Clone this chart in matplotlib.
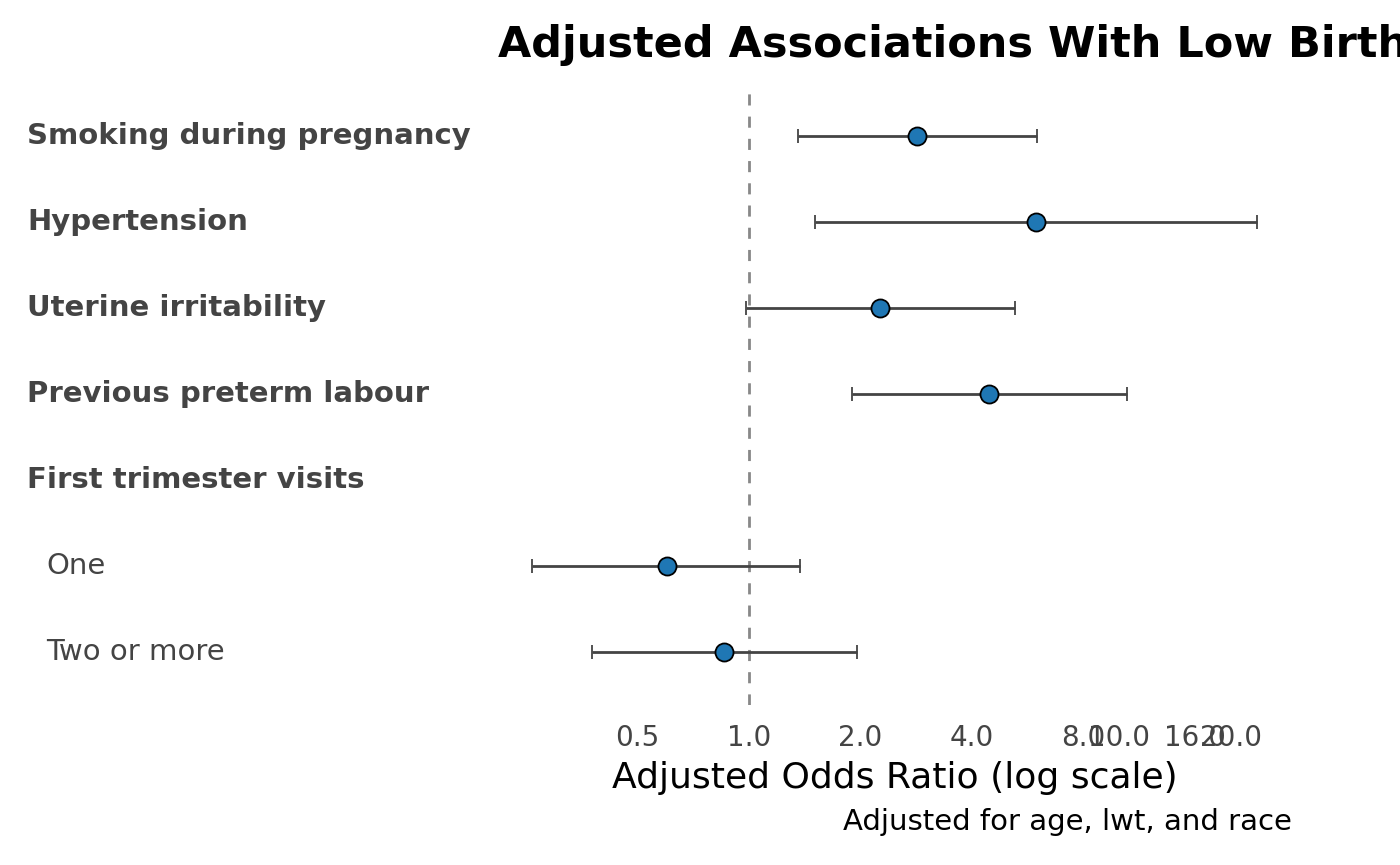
import matplotlib.pyplot as plt
import matplotlib.transforms as mtransforms

labels = ['Smoking during pregnancy', 'Hypertension', 'Uterine irritability',
          'Previous preterm labour', 'First trimester visits', 'One', 'Two or more']
is_header = [True, True, True, True, True, False, False]
odds = [2.84, 5.95, 2.26, 4.45, None, 0.60, 0.856]
lower = [1.36, 1.51, 0.98, 1.90, None, 0.26, 0.377]
upper = [6.0, 23.5, 5.23, 10.5, None, 1.37, 1.96]
ticks = [0.5, 1.0, 2.0, 4.0, 8.0, 10.0, 16.0, 20.0]

fig = plt.figure(figsize=(14, 8.65), dpi=100)
ax = fig.add_axes([520/1400, 0.185, 750/1400, 0.717])
ax.set_xscale('log')
ax.set_xlim(0.241, 25.5)
ax.set_ylim(6.616, -0.593)

ax.axvline(1.0, color='#888888', ls='--', lw=2, dashes=(4, 4), zorder=1)

for i, (o, lo, hi) in enumerate(zip(odds, lower, upper)):
    if o is None:
        continue
    ax.errorbar(o, i, xerr=[[o - lo], [hi - o]], fmt='o', color='#444444',
                ecolor='#444444', elinewidth=2, capsize=5, capthick=2,
                markerfacecolor='#1f77b4', markeredgecolor='black',
                markersize=13, markeredgewidth=1.3, zorder=3, clip_on=False)

trans = mtransforms.blended_transform_factory(fig.transFigure, ax.transData)
for i, (lab, h) in enumerate(zip(labels, is_header)):
    if h:
        fig.text(27/1400, i, lab, transform=trans, fontsize=21, fontweight='bold',
                 color='#444444', va='center', ha='left')
    else:
        fig.text(46/1400, i, lab, transform=trans, fontsize=21,
                 color='#444444', va='center', ha='left')

ax.set_yticks([])
ax.set_xticks(ticks)
ax.set_xticklabels([f'{t:.1f}' for t in ticks])
ax.minorticks_off()
ax.tick_params(axis='x', length=0, labelsize=20, labelcolor='#444444', pad=14)
for s in ax.spines.values():
    s.set_visible(False)
ax.set_xlabel('Adjusted Odds Ratio (log scale)', fontsize=26, labelpad=6)

fig.text(498/1400, 1 - 45/865, 'Adjusted Associations With Low Birth Weight',
         fontsize=31, fontweight='bold', ha='left', va='center')
fig.text(1292/1400, 1 - 822/865, 'Adjusted for age, lwt, and race',
         fontsize=21, ha='right', va='center')

fig.savefig('out.png', dpi=100)
